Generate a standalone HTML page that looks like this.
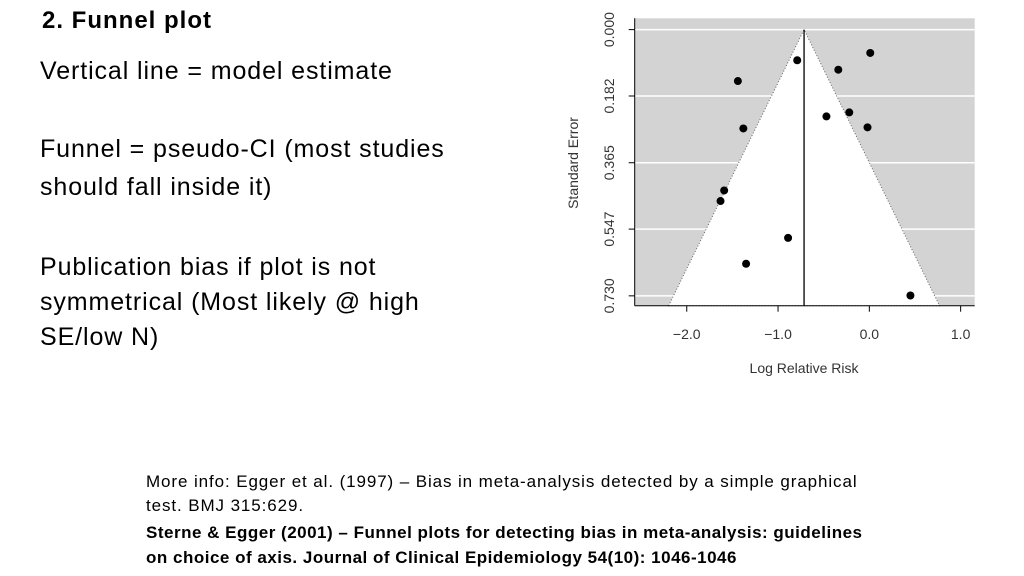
<!DOCTYPE html>
<html><head><meta charset="utf-8"><style>
body{margin:0;width:1024px;height:576px;background:#fff;position:relative;overflow:hidden;font-family:"Liberation Sans",sans-serif;color:#000}
.t{position:absolute;white-space:nowrap;font-size:25px;line-height:1;letter-spacing:0.9px}
.s{position:absolute;white-space:nowrap;font-size:17px;line-height:1;letter-spacing:0.9px}
</style></head><body>
<div class="t" style="left:42px;top:9px;font-weight:bold;font-size:24px;letter-spacing:1px">2. Funnel plot</div>
<div class="t" style="left:40px;top:59px">Vertical line = model estimate</div>
<div class="t" style="left:40px;top:130px;line-height:38px">Funnel = pseudo-CI (most studies<br>should fall inside it)</div>
<div class="t" style="left:40px;top:250px;line-height:35px">Publication bias if plot is not<br>symmetrical (Most likely @ high<br>SE/low N)</div>
<div class="s" style="left:146px;top:470px;line-height:24px">More info: Egger et al. (1997) – Bias in meta-analysis detected by a simple graphical<br>test. BMJ 315:629.</div>
<div class="s" style="left:146px;top:520px;line-height:25px;font-weight:bold;letter-spacing:0.5px">Sterne &amp; Egger (2001) – Funnel plots for detecting bias in meta-analysis: guidelines<br>on choice of axis. Journal of Clinical Epidemiology 54(10): 1046-1046</div>
<svg id="chart" width="1024" height="576" style="position:absolute;left:0;top:0" xmlns="http://www.w3.org/2000/svg"></svg>
<script>
const effects=[-0.79,0.01,-1.44,-0.34,-0.47,-0.22,-0.02,-1.38,-1.59,-1.63,-0.89,-1.35,0.45];
const stdErrors=[0.084,0.064,0.141,0.110,0.238,0.227,0.268,0.271,0.441,0.470,0.571,0.642,0.729];
const modelEstimate=-0.715;
const xTicks=[-2,-1,0,1];
const xTickLabels=["\u22122.0","\u22121.0","0.0","1.0"];
const yTicks=[0,0.182,0.365,0.547,0.730];
const yTickLabels=["0.000","0.182","0.365","0.547","0.730"];
const L=634.7,R=974.7,T=18.3,B=305.7;
const xMin=-2.57,xMax=1.154,yMin=-0.031,yMax=0.757;
const X=v=>L+(v-xMin)/(xMax-xMin)*(R-L);
const Y=v=>T+(v-yMin)/(yMax-yMin)*(B-T);
const svg=document.getElementById('chart');
const NS='http://www.w3.org/2000/svg';
function mk(tag,attrs){const e=document.createElementNS(NS,tag);for(const k in attrs)e.setAttribute(k,attrs[k]);svg.appendChild(e);return e;}
let e;
e=mk('rect',{x:L,y:T,width:R-L,height:B-T,fill:'#d3d3d3'});


yTicks.forEach(t=>{const g=mk('line',{x1:L,x2:R,y1:Y(t),y2:Y(t),stroke:'#fff','stroke-width':1.5});

});
const ax=X(modelEstimate),ay=Y(0);
const yb=yMax;
e=mk('polygon',{points:`${X(modelEstimate-1.96*yb)},${B} ${ax},${ay} ${X(modelEstimate+1.96*yb)},${B}`,fill:'#fff',stroke:'#666','stroke-width':1,'stroke-dasharray':'1,2'});


e=mk('line',{x1:ax,x2:ax,y1:ay,y2:B,stroke:'#000','stroke-width':1.3});


effects.forEach((v,i)=>{const c=mk('circle',{cx:X(v),cy:Y(stdErrors[i]),r:4,fill:'#000'});

});
e=mk('line',{x1:L,x2:L,y1:T,y2:B,stroke:'#000','stroke-width':1});


e=mk('line',{x1:L,x2:R,y1:B,y2:B,stroke:'#000','stroke-width':1});


yTicks.forEach((t,i)=>{mk('line',{x1:L-6,x2:L,y1:Y(t),y2:Y(t),stroke:'#000'});
const tx=mk('text',{x:0,y:0,transform:`translate(614,${Y(t)}) rotate(-90)`,'text-anchor':'middle','font-size':14,'font-family':'Liberation Sans, sans-serif',fill:'#333'});
tx.textContent=yTickLabels[i];

});
xTicks.forEach((t,i)=>{mk('line',{x1:X(t),x2:X(t),y1:B,y2:B+6,stroke:'#000'});
const tx=mk('text',{x:X(t),y:339,'text-anchor':'middle','font-size':14,'font-family':'Liberation Sans, sans-serif',fill:'#333'});
tx.textContent=xTickLabels[i];

});
e=mk('text',{x:804,y:373,'text-anchor':'middle','font-size':14,'font-family':'Liberation Sans, sans-serif',fill:'#333'});
e.textContent='Log Relative Risk';


e=mk('text',{x:0,y:0,transform:'translate(578,163) rotate(-90)','text-anchor':'middle','font-size':14,'font-family':'Liberation Sans, sans-serif',fill:'#333'});
e.textContent='Standard Error';


</script>
</body></html>
